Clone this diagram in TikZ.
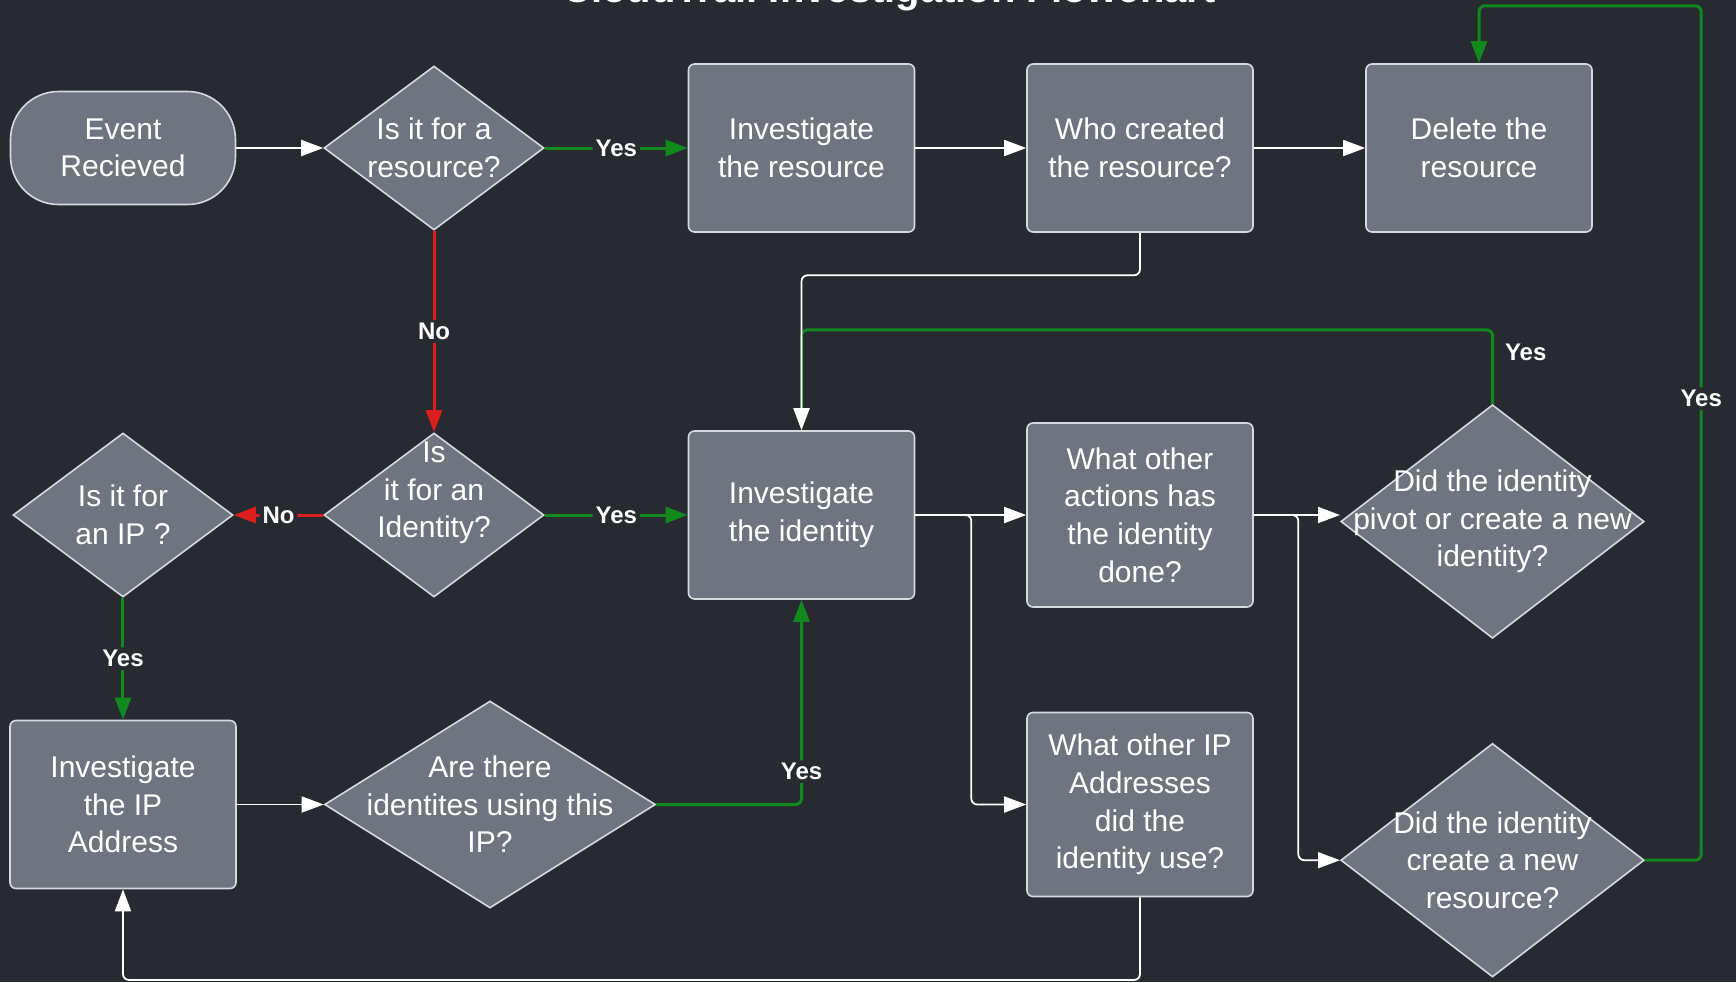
\documentclass[tikz,border=0pt]{standalone}
\usepackage{fontspec}
\setmainfont{Liberation Sans}
\usetikzlibrary{arrows.meta,positioning,shapes.geometric}

\definecolor{bgdark}{HTML}{272A31}
\definecolor{boxgrey}{HTML}{6E7580}
\definecolor{edgegrey}{HTML}{D6D9DE}
\definecolor{yesgreen}{HTML}{11891F}
\definecolor{nored}{HTML}{DB1E1E}

\tikzset{
  nodebase/.style={draw=edgegrey, line width=0.8pt, fill=boxgrey, text=white,
    font=\fontsize{15}{18.8}\selectfont, align=center, inner sep=0pt},
  startbox/.style={nodebase, rectangle, rounded corners=24pt, minimum width=112.5pt, minimum height=56.5pt},
  procbox/.style={nodebase, rectangle, rounded corners=3pt, minimum width=113pt, minimum height=84pt},
  procboxtall/.style={procbox, minimum height=92pt},
  decision/.style={nodebase, diamond, minimum width=110pt, minimum height=82pt},
  decisionbig/.style={decision, minimum width=151.7pt, minimum height=116.8pt},
  decisionwide/.style={decision, minimum width=165.5pt, minimum height=103.5pt},
  qtext/.style={text=white, font=\fontsize{15}{18.8}\selectfont, align=center, inner sep=0pt},
  flow/.style={draw=white, line width=0.9pt, rounded corners=3pt,
    -{Triangle[length=11pt,width=8pt,fill=white]}},
  yesline/.style={flow, draw=yesgreen, line width=1.5pt,
    -{Triangle[length=11pt,width=8pt,fill=yesgreen]}},
  noline/.style={flow, draw=nored, line width=1.5pt,
    -{Triangle[length=11pt,width=8pt,fill=nored]}},
  lbl/.style={fill=bgdark, text=white, font=\bfseries\fontsize{12}{14}\selectfont, inner sep=1.5pt},
  title/.style={text=white, font=\bfseries\fontsize{20}{24}\selectfont, inner sep=0pt}
}

\begin{document}
\begin{tikzpicture}[on grid]
  \useasboundingbox (-61.5pt,74pt) rectangle (806.5pt,-417pt);
  \fill[bgdark] (-61.5pt,74pt) rectangle (806.5pt,-417pt);
  \node[title, anchor=base] (ttl) at (383pt,72.75pt) {CloudTrail Investigation Flowchart};

  % top row
  \node[startbox] (ev)                          {Event\\Recieved};
  \node[decision] (res)    [right=155.5pt of ev]  {};
  \node[qtext]    (res-t)  at (res)             {Is it for a\\resource?};
  \node[procbox]  (invres) [right=183.75pt of res] {Investigate\\the resource};
  \node[procbox]  (who)    [right=169.25pt of invres] {Who created\\the resource?};
  \node[procbox]  (del)    [right=169.5pt of who] {Delete the\\resource};

  % middle row
  \node[decision] (idq)    [below=183.5pt of res] {};
  \node[qtext]    (idq-t)  at ([yshift=11pt]idq) {Is\\it for an\\Identity?};
  \node[decision] (ipq)    [left=155.5pt of idq]  {};
  \node[qtext]    (ipq-t)  at (ipq)             {Is it for\\an IP ?};
  \node[procbox]  (invid)  [right=183.75pt of idq] {Investigate\\the identity};
  \node[procboxtall] (acts) [right=169.25pt of invid] {What other\\actions has\\the identity\\done?};
  \node[decisionbig] (piv) [below right=3.25pt and 176.25pt of acts] {};
  \node[qtext]    (piv-t)  at (piv)             {Did the identity\\pivot or create a new\\identity?};

  % bottom row
  \node[procbox]  (invip)  [below=144.75pt of ipq] {Investigate\\the IP\\Address};
  \node[decisionwide] (are) [right=183.5pt of invip] {};
  \node[qtext]    (are-t)  at (are)             {Are there\\identites using this\\IP?};
  \node[procboxtall] (oip) [below=144.75pt of acts] {What other IP\\Addresses\\did the\\identity use?};
  \node[decisionbig] (cre) [below=169.35pt of piv] {};
  \node[qtext]    (cre-t)  at (cre)             {Did the identity\\create a new\\resource?};

  \path (res) edge[noline] node[lbl] {No} (idq)
        (idq) edge[noline] node[lbl] {No} (ipq);
  \path (res) edge[yesline] node[lbl] {Yes} (invres)
        (idq) edge[yesline] node[lbl] {Yes} (invid)
        (ipq) edge[yesline] node[lbl] {Yes} (invip);

  \draw[yesline] (piv.north) -- node[lbl, right=4pt, pos=0.7] {Yes} ++(0,37pt) -| (invid.north);
  \draw[yesline] (are.east) -| node[lbl, pos=0.58] {Yes} (invid.south);
  \draw[yesline] (cre.east) -- ++(28.1pt,0) |- node[lbl, pos=0.27] {Yes} ([yshift=28.7pt]del.north) -- (del.north);

  \path (ev) edge[flow] (res)
        (invres) edge[flow] (who)
        (who) edge[flow] (del)
        (invip) edge[flow] (are)
        (invid) edge[flow] (acts)
        (acts.east) edge[flow] (acts.east -| piv.west);
  \draw[flow] (who.south) -- ++(0,-21.25pt) -| (invid.north);
  \draw[flow] (invid.east) -- ++(28pt,0) |- (oip.west);
  \draw[flow] (acts.east) -- ++(22.25pt,0) |- (cre.west);
  \draw[flow] (oip.south) -- ++(0,-41.35pt) -| (invip.south);
\end{tikzpicture}
\end{document}
